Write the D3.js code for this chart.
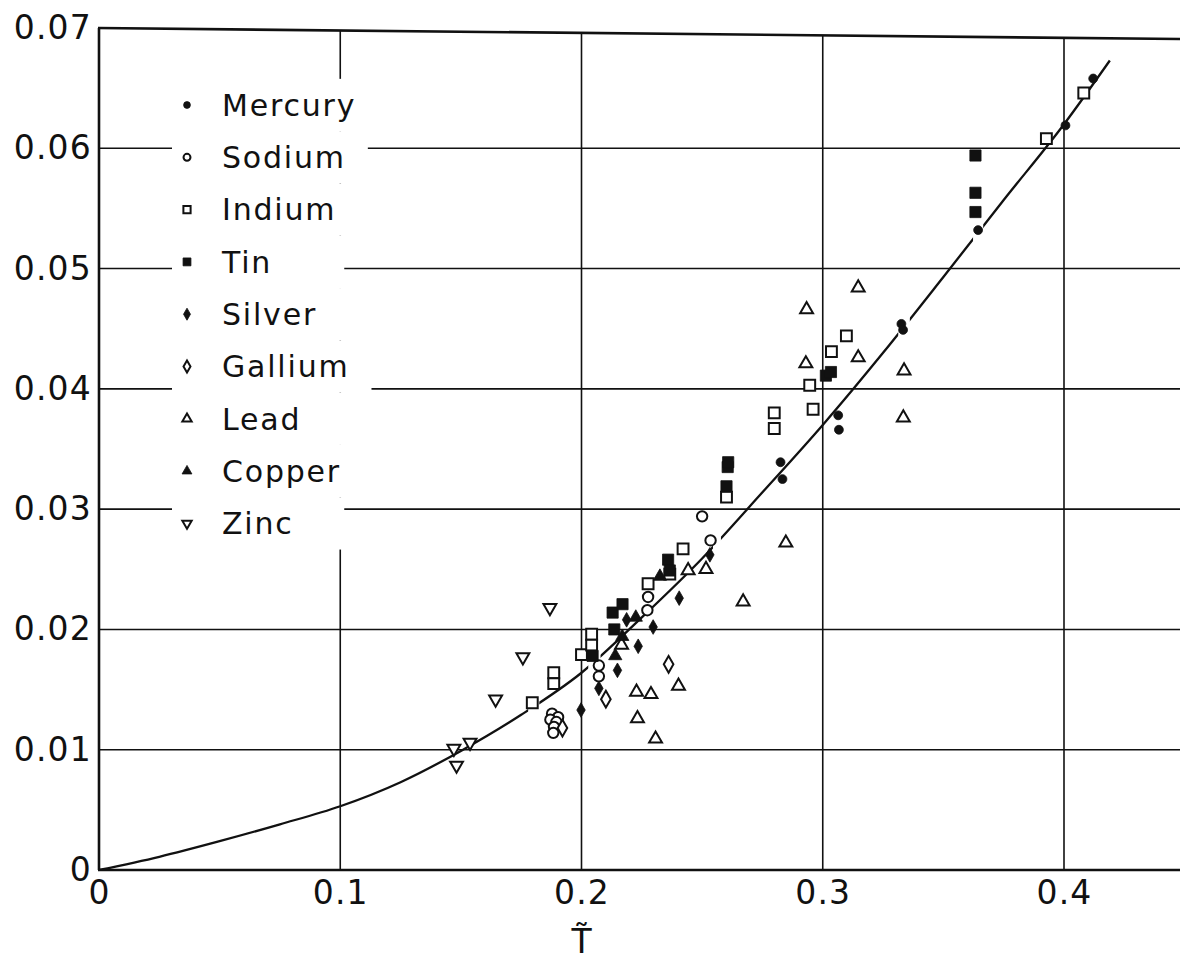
<!DOCTYPE html>
<html>
<head>
<meta charset="utf-8">
<script src="https://cdn.jsdelivr.net/npm/d3@7/dist/d3.min.js"></script>
<style>
  html, body { margin: 0; padding: 0; background: #fff; }
  svg { display: block; }
  text { font-family: "DejaVu Sans", sans-serif; fill: #111; }
</style>
</head>
<body>
<svg id="chart" width="1180" height="963"></svg>
<script>
// ---- data: reduced temperature T~ vs. the plotted quantity, by metal ----
const mercuryT = [0.2825, 0.2833, 0.3064, 0.3067, 0.3326, 0.3333, 0.3644, 0.4006, 0.4121];
const mercuryV = [0.0339, 0.0325, 0.0378, 0.0366, 0.0454, 0.0449, 0.0532, 0.0619, 0.0658];

const sodiumT = [0.1878, 0.1903, 0.1871, 0.1896, 0.1886, 0.1883, 0.2072, 0.2072, 0.2273, 0.2276, 0.2500, 0.2535];
const sodiumV = [0.0130, 0.0127, 0.0125, 0.0123, 0.0119, 0.0114, 0.0170, 0.0161, 0.0216, 0.0227, 0.0294, 0.0274];

const indiumT = [0.1796, 0.1885, 0.1885, 0.2000, 0.2042, 0.2042, 0.2276, 0.2366, 0.2421, 0.2601, 0.2799, 0.2799, 0.2946, 0.2960, 0.3036, 0.3098, 0.3927, 0.4082];
const indiumV = [0.0139, 0.0164, 0.0155, 0.0179, 0.0196, 0.0187, 0.0238, 0.0246, 0.0267, 0.0310, 0.0380, 0.0367, 0.0403, 0.0383, 0.0431, 0.0444, 0.0608, 0.0646];

const tinT = [0.2046, 0.2129, 0.2136, 0.2170, 0.2359, 0.2366, 0.2601, 0.2606, 0.2608, 0.3013, 0.3034, 0.3633, 0.3633, 0.3633];
const tinV = [0.0178, 0.0214, 0.0200, 0.0221, 0.0258, 0.0249, 0.0319, 0.0335, 0.0339, 0.0411, 0.0414, 0.0594, 0.0563, 0.0547];

const silverT = [0.1998, 0.2072, 0.2149, 0.2187, 0.2235, 0.2297, 0.2405, 0.2532];
const silverV = [0.0133, 0.0151, 0.0166, 0.0208, 0.0186, 0.0202, 0.0226, 0.0262];

const galliumT = [0.1921, 0.2101, 0.2361];
const galliumV = [0.0118, 0.0142, 0.0171];

const leadT = [0.2166, 0.2228, 0.2288, 0.2402, 0.2232, 0.2307, 0.2442, 0.2516, 0.2670, 0.2847, 0.2930, 0.2933, 0.3147, 0.3147, 0.3334, 0.3337];
const leadV = [0.0187, 0.0148, 0.0146, 0.0153, 0.0126, 0.0109, 0.0249, 0.0250, 0.0223, 0.0272, 0.0421, 0.0466, 0.0426, 0.0484, 0.0376, 0.0415];

const copperT = [0.2140, 0.2169, 0.2225, 0.2325];
const copperV = [0.0178, 0.0194, 0.0210, 0.0244];

const zincT = [0.1471, 0.1482, 0.1538, 0.1644, 0.1757, 0.1869];
const zincV = [0.0101, 0.0087, 0.0106, 0.0142, 0.0177, 0.0218];

// theoretical curve
const curveT = [0, 0.025, 0.05, 0.075, 0.1, 0.125, 0.15, 0.175, 0.2, 0.225, 0.25, 0.275, 0.3, 0.325, 0.35, 0.375, 0.4, 0.419];
const curveV = [0, 0.0011, 0.0024, 0.0038, 0.0053, 0.0073, 0.0099, 0.0129, 0.0164, 0.0210, 0.0259, 0.0314, 0.0370, 0.0430, 0.0493, 0.0557, 0.0620, 0.0673];
// short breaks left in the drawn curve (T ranges)
const curveBreaks = [[0.1779, 0.1825], [0.2028, 0.2079], [0.2545, 0.2578], [0.3313, 0.3361], [0.3623, 0.3665]];

const xTicks = [0, 0.1, 0.2, 0.3, 0.4];
const xTickLabels = ["0", "0.1", "0.2", "0.3", "0.4"];
const yTicks = [0, 0.01, 0.02, 0.03, 0.04, 0.05, 0.06, 0.07];
const yTickLabels = ["0", "0.01", "0.02", "0.03", "0.04", "0.05", "0.06", "0.07"];
const xTitle = "T\u0303";

const seriesNames = ["Mercury", "Sodium", "Indium", "Tin", "Silver", "Gallium", "Lead", "Copper", "Zinc"];

// ---- layout ----
const svg = d3.select("#chart");
const W = 1180, H = 963;
const x = d3.scaleLinear().domain([0, 0.4]).range([99, 1064]);
const y = d3.scaleLinear().domain([0, 0.07]).range([870, 28]);
const xRight = W;
const ink = "#111";

// top frame line runs slightly downhill to the right
const topLeftY = y(0.07), topRightY = y(0.07) + 11;
const topAt = px => topLeftY + (topRightY - topLeftY) * (px - x(0)) / (xRight - x(0));

// gridlines
const grid = svg.append("g").attr("stroke", ink).attr("stroke-width", 1.6);
yTicks.filter(v => v > 0 && v < 0.07).forEach(v => {
  grid.append("line").attr("x1", x(0)).attr("x2", xRight).attr("y1", y(v)).attr("y2", y(v));
});
xTicks.filter(v => v > 0).forEach(v => {
  grid.append("line").attr("x1", x(v)).attr("x2", x(v)).attr("y1", y(0)).attr("y2", topAt(x(v)));
});

// legend (blank band behind it interrupts the grid)
const legendX = 187, legendTextX = 222, legendY0 = 105, legendStep = 52.3;
const blankLayer = svg.append("g");
const legend = svg.append("g");

// theoretical curve with breaks
const defs = svg.append("defs");
const mask = defs.append("mask").attr("id", "curve-breaks").attr("maskUnits", "userSpaceOnUse")
  .attr("x", 0).attr("y", 0).attr("width", W).attr("height", H);
mask.append("rect").attr("x", 0).attr("y", 0).attr("width", W).attr("height", H).attr("fill", "#fff");
curveBreaks.forEach(([a, b]) => {
  mask.append("rect").attr("x", x(a)).attr("y", 0).attr("width", x(b) - x(a)).attr("height", H).attr("fill", "#000");
});
const line = d3.line().x(d => x(d[0])).y(d => y(d[1])).curve(d3.curveMonotoneX);
svg.append("path")
  .datum(curveT.map((t, i) => [t, curveV[i]]))
  .attr("d", line)
  .attr("fill", "none")
  .attr("stroke", ink)
  .attr("stroke-width", 2.3)
  .attr("mask", "url(#curve-breaks)");

// frame: left axis, bottom axis, top edge
const frame = svg.append("g").attr("stroke", ink).attr("stroke-width", 2.6).attr("fill", "none");
frame.append("line").attr("x1", x(0)).attr("x2", x(0)).attr("y1", y(0)).attr("y2", topLeftY);
frame.append("line").attr("x1", x(0) - 1).attr("x2", xRight).attr("y1", y(0)).attr("y2", y(0));
frame.append("line").attr("x1", x(0) - 1).attr("x2", xRight).attr("y1", topLeftY).attr("y2", topRightY);

// axes labels via d3 axes
const yAxis = svg.append("g").attr("transform", `translate(${x(0)},0)`)
  .call(d3.axisLeft(y).tickValues(yTicks).tickSize(0).tickPadding(7)
    .tickFormat((d, i) => yTickLabels[i]));
const xAxis = svg.append("g").attr("transform", `translate(0,${y(0)})`)
  .call(d3.axisBottom(x).tickValues(xTicks).tickSize(0).tickPadding(11)
    .tickFormat((d, i) => xTickLabels[i]));
[yAxis, xAxis].forEach(g => {
  g.select(".domain").remove();
  g.selectAll("text").attr("font-family", "DejaVu Sans").attr("font-size", 33)
    .attr("letter-spacing", 1.2).attr("fill", ink);
});

// x-axis title: T with a tilde
svg.append("text").attr("x", x(0.2)).attr("y", 953).attr("text-anchor", "middle")
  .attr("font-size", 33).text(xTitle);

// marker shapes
function markerPath(shape, size) {
  const sym = {
    circle: d3.symbolCircle, square: d3.symbolSquare, diamond: d3.symbolDiamond,
    triUp: d3.symbolTriangle, triDown: d3.symbolTriangle
  }[shape];
  return d3.symbol().type(sym).size(size)();
}

const series = [
  { name: "Mercury", T: mercuryT, V: mercuryV, shape: "circle",  filled: true,  size: 62,  lsize: 36 },
  { name: "Sodium",  T: sodiumT,  V: sodiumV,  shape: "circle",  filled: false, size: 85,  lsize: 38 },
  { name: "Indium",  T: indiumT,  V: indiumV,  shape: "square",  filled: false, size: 118, lsize: 52 },
  { name: "Tin",     T: tinT,     V: tinV,     shape: "square",  filled: true,  size: 125, lsize: 62 },
  { name: "Silver",  T: silverT,  V: silverV,  shape: "diamond", filled: true,  size: 62,  lsize: 42 },
  { name: "Gallium", T: galliumT, V: galliumV, shape: "diamond", filled: false, size: 80,  lsize: 42 },
  { name: "Lead",    T: leadT,    V: leadV,    shape: "triUp",   filled: false, size: 72,  lsize: 38 },
  { name: "Copper",  T: copperT,  V: copperV,  shape: "triUp",   filled: true,  size: 76,  lsize: 42 },
  { name: "Zinc",    T: zincT,    V: zincV,    shape: "triDown", filled: false, size: 72,  lsize: 38 }
];

function styleMarker(sel, s) {
  sel.attr("fill", s.filled ? ink : "#fff")
     .attr("stroke", ink)
     .attr("stroke-width", s.filled ? 0.8 : 2);
}

// data points (open ones white-filled so they break the curve)
const pts = svg.append("g");
series.forEach(s => {
  const d = s.T.map((t, i) => [t, s.V[i]]);
  pts.append("g").selectAll("path").data(d).join("path")
    .attr("d", markerPath(s.shape, s.size))
    .attr("transform", p => `translate(${x(p[0])},${y(p[1])})${s.shape === "triDown" ? " rotate(180)" : ""}`)
    .call(styleMarker, s);
});

// legend entries
series.forEach((s, i) => {
  const cy = legendY0 + i * legendStep;
  const g = legend.append("g");
  g.append("path")
    .attr("d", markerPath(s.shape, s.lsize))
    .attr("transform", `translate(${legendX},${cy})${s.shape === "triDown" ? " rotate(180)" : ""}`)
    .call(styleMarker, s);
  const t = g.append("text").attr("x", legendTextX).attr("y", cy).attr("dy", "0.36em")
    .attr("font-size", 30).attr("letter-spacing", 1.8).text(seriesNames[i]);
  const end = legendTextX + t.node().getComputedTextLength();
  blankLayer.append("rect")
    .attr("x", legendX - 15).attr("y", cy - legendStep / 2)
    .attr("width", Math.max(end + 22, x(0.1) + 4) - (legendX - 15))
    .attr("height", legendStep)
    .attr("fill", "#fff");
});
</script>
</body>
</html>
